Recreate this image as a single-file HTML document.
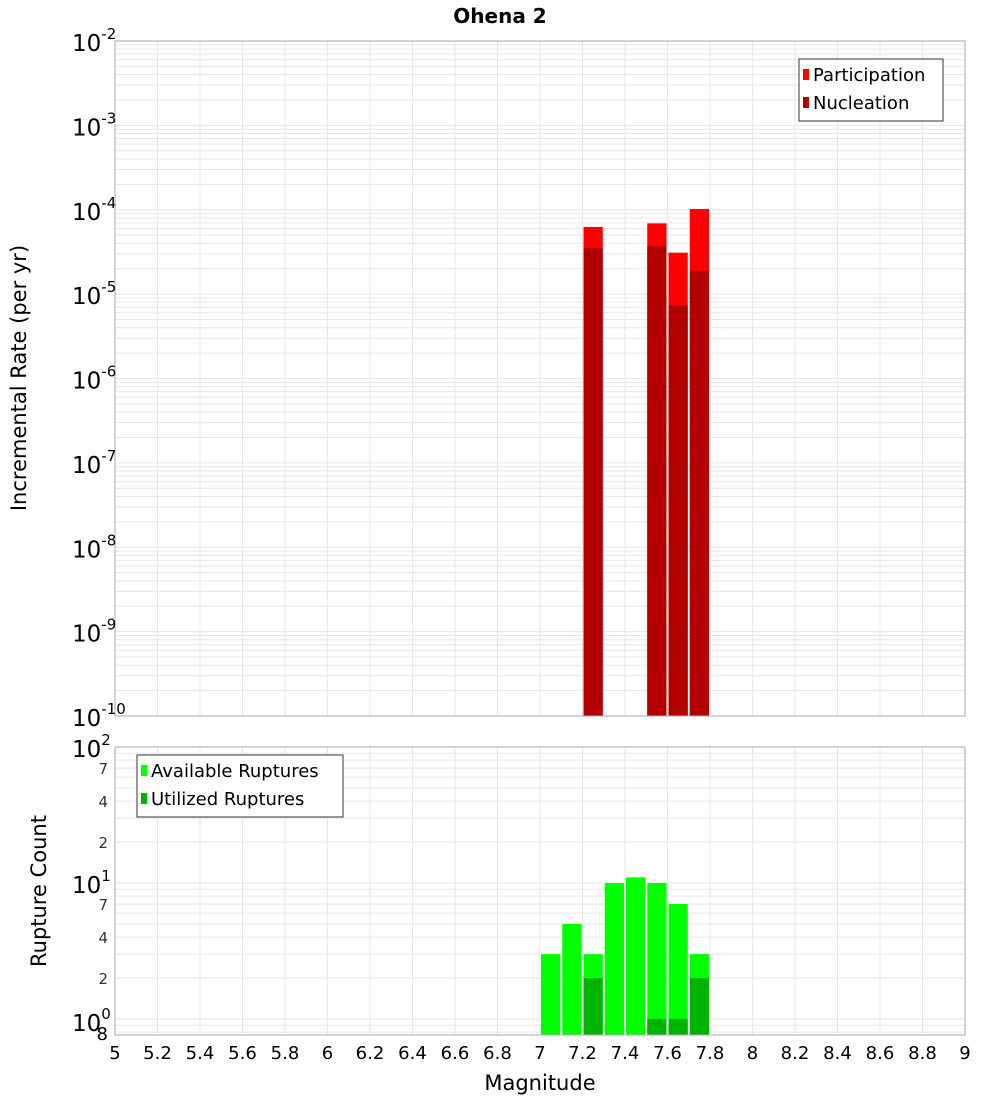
<!DOCTYPE html>
<html><head><meta charset="utf-8"><style>
body{margin:0;background:#fff;font-family:"DejaVu Sans","Liberation Sans",sans-serif}
</style></head><body>
<svg id="c" width="1000" height="1100" xmlns="http://www.w3.org/2000/svg" style="font-family:'DejaVu Sans','Liberation Sans',sans-serif">
<text x="500" y="23" text-anchor="middle" font-size="20" font-weight="bold">Ohena 2</text>
<text transform="translate(26,378) rotate(-90)" text-anchor="middle" font-size="21">Incremental Rate (per yr)</text>
<text transform="translate(46,891) rotate(-90)" text-anchor="middle" font-size="21">Rupture Count</text>
<text x="540" y="1090" text-anchor="middle" font-size="21">Magnitude</text>
<g id="g"></g>
</svg>
<script>
const binCenters=[7.05,7.15,7.25,7.35,7.45,7.55,7.65,7.75];
const participation=[0,0,6.25e-5,0,0,6.9e-5,3.1e-5,1.02e-4];
const nucleation=[0,0,3.5e-5,0,0,3.7e-5,7.4e-6,1.9e-5];
const available=[3,5,3,10,11,10,7,3];
const utilized=[0,0,2,0,0,1,1,2];
const xTicks=[5,5.2,5.4,5.6,5.8,6,6.2,6.4,6.6,6.8,7,7.2,7.4,7.6,7.8,8,8.2,8.4,8.6,8.8,9];
const topExps=[-2,-3,-4,-5,-6,-7,-8,-9,-10];
const botMinorLabels=[7,4,2];

const NS="http://www.w3.org/2000/svg";
const g=document.getElementById('g');
function el(t,a,txt){const e=document.createElementNS(NS,t);for(const k in a)e.setAttribute(k,a[k]);if(txt!==undefined)e.textContent=txt;g.appendChild(e);return e;}
const L=115,R=965;
const X=v=>L+(v-5)/4*(R-L);
const T0=41,T1=716;
const Yt=v=>T0+(-2-Math.log10(v))/8*(T1-T0);
const B0=747,B1=1035,DEC=136;
const Yb=v=>B0+(2-Math.log10(v))*DEC;
// grids
function gridline(x1,y1,x2,y2){const e=el('line',{x1,y1,x2,y2,stroke:'#e6e6e6','stroke-width':1});}
xTicks.forEach(t=>{gridline(X(t),T0,X(t),T1);gridline(X(t),B0,X(t),B1);});
for(let e=-10;e<-2;e++)for(let m=1;m<10;m++){const y=Yt(m*Math.pow(10,e));gridline(L,y,R,y);}
for(let e=-1;e<2;e++)for(let m=1;m<10;m++){const v=m*Math.pow(10,e);const y=Yb(v);if(y<=B1&&y>=B0)gridline(L,y,R,y);}
// top bars
binCenters.forEach((c,i)=>{
 const x=X(c-0.05)+1,w=X(c+0.05)-X(c-0.05)-2;
 if(participation[i]>0){const r=el('rect',{x,y:Yt(participation[i]),width:w,height:T1-Yt(participation[i]),fill:'#ff0000'});}
 if(nucleation[i]>0){const r=el('rect',{x,y:Yt(nucleation[i]),width:w,height:T1-Yt(nucleation[i]),fill:'#b30000'});}
 if(available[i]>0){const r=el('rect',{x,y:Yb(available[i]),width:w,height:B1-Yb(available[i]),fill:'#00ff00'});}
 if(utilized[i]>0){const r=el('rect',{x,y:Yb(utilized[i]),width:w,height:B1-Yb(utilized[i]),fill:'#00b300'});}
});
// frames
let f=el('rect',{x:L,y:T0,width:R-L,height:T1-T0,fill:'none',stroke:'#aaa'});
f=el('rect',{x:L,y:B0,width:R-L,height:B1-B0,fill:'none',stroke:'#aaa'});
// x tick labels
xTicks.forEach(t=>{const e=el('text',{x:X(t),y:1059,'text-anchor':'middle','font-size':18},String(t));});
// top y labels
topExps.forEach(ex=>{const y=Yt(Math.pow(10,ex));const e=el('text',{x:72,y:y+10,'font-size':23});
 const a=document.createElementNS(NS,'tspan');a.textContent='10';e.appendChild(a);const b=document.createElementNS(NS,'tspan');b.setAttribute('dy','-12');b.setAttribute('font-size','15');b.textContent=String(ex);e.appendChild(b);});
// bottom y labels
[2,1,0].forEach(ex=>{const y=Yb(Math.pow(10,ex));const e=el('text',{x:72,y:y+(ex===0?12:10),'font-size':23});
 const a=document.createElementNS(NS,'tspan');a.textContent='10';e.appendChild(a);const b=document.createElementNS(NS,'tspan');b.setAttribute('dy','-12');b.setAttribute('font-size','15');b.textContent=String(ex);e.appendChild(b);});
[1,0].forEach(ex=>botMinorLabels.forEach(m=>{const y=Yb(m*Math.pow(10,ex));const e=el('text',{x:108,y:y+6,'text-anchor':'end','font-size':15,fill:'#333'},String(m));}));
let e8=el('text',{x:108,y:Yb(0.8)+8,'text-anchor':'end','font-size':18},'8');
// legends
function legend(x,y,w,items,name){const gr=document.createElementNS(NS,'g');g.appendChild(gr);
 const r=document.createElementNS(NS,'rect');r.setAttribute('x',x);r.setAttribute('y',y);r.setAttribute('width',w);r.setAttribute('height',items.length*28+6);r.setAttribute('fill','#fff');r.setAttribute('stroke','#333');gr.appendChild(r);
 items.forEach((it,i)=>{const s=document.createElementNS(NS,'rect');s.setAttribute('x',x+4);s.setAttribute('y',y+10+i*28);s.setAttribute('width',6);s.setAttribute('height',11);s.setAttribute('fill',it[1]);gr.appendChild(s);
 const t=document.createElementNS(NS,'text');t.setAttribute('x',x+14);t.setAttribute('y',y+22+i*28);t.setAttribute('font-size',18);t.textContent=it[0];gr.appendChild(t);});}
legend(799,59,144,[['Participation','#ff0000'],['Nucleation','#b30000']],'top-legend');
legend(137,755,206,[['Available Ruptures','#00ff00'],['Utilized Ruptures','#00b300']],'bottom-legend');
</script>
</body></html>
